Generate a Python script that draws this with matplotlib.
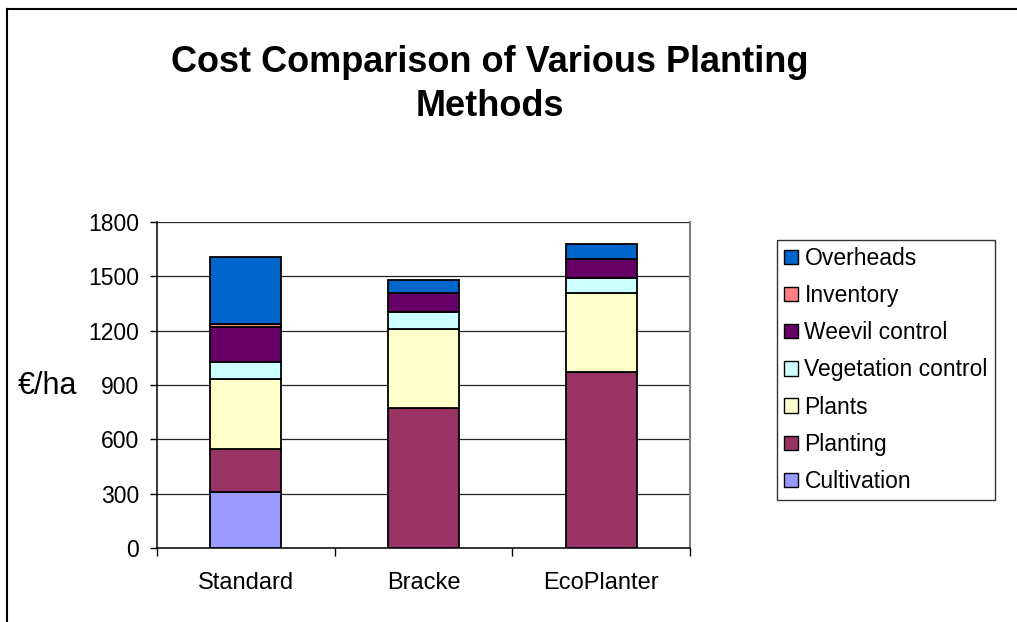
import matplotlib
matplotlib.use("Agg")
import matplotlib.pyplot as plt
from matplotlib.patches import Patch
from matplotlib.lines import Line2D
import numpy as np

plt.rcParams['font.family'] = ['Liberation Sans', 'DejaVu Sans']

categories = ["Standard", "Bracke", "EcoPlanter"]
series = ["Cultivation", "Planting", "Plants", "Vegetation control",
          "Weevil control", "Inventory", "Overheads"]
cultivation = [307, 0, 0]
planting = [240, 775, 970]
plants = [385, 436, 439]
vegetation = [95, 93, 80]
weevil = [195, 105, 105]
inventory = [15, 0, 0]
overheads = [370, 70, 84]
values = [cultivation, planting, plants, vegetation, weevil, inventory, overheads]
colors = ["#9999FF", "#993366", "#FFFFCC", "#CCFFFF", "#660066", "#FF8080", "#0066CC"]
yticks = [0, 300, 600, 900, 1200, 1500, 1800]

W, H = 1017, 622
fig = plt.figure(figsize=(W / 100, H / 100), dpi=100)
ax = fig.add_axes([157 / W, 1 - 548 / H, (690 - 157) / W, (548 - 222) / H])

x = np.arange(len(categories))
bottom = np.zeros(len(categories))
for vals, col in zip(values, colors):
    ax.bar(x, vals, 0.4, bottom=bottom, color=col, edgecolor="black",
           linewidth=1.3, zorder=3)
    bottom += np.array(vals)

ax.set_xlim(-0.5, 2.5)
ax.set_ylim(0, 1800)
ax.set_yticks(yticks)
ax.set_yticklabels([str(t) for t in yticks])
ax.yaxis.grid(True, color="#222222", linewidth=0.9, zorder=0)
ax.set_axisbelow(True)

ax.set_xticks([-0.5, 0.5, 1.5, 2.5])
ax.set_xticklabels([])
ax.set_xticks(x, minor=True)
ax.set_xticklabels(categories, minor=True)
ax.tick_params(axis="x", which="major", direction="out", length=6, width=1, color="black")
ax.tick_params(axis="x", which="minor", length=0, pad=17, labelsize=17)
ax.tick_params(axis="y", direction="out", length=5, width=1, pad=8, labelsize=16.5)

for s in ["left", "bottom"]:
    ax.spines[s].set_color("black")
    ax.spines[s].set_linewidth(1.1)
ax.spines["top"].set_visible(False)
ax.spines["right"].set_color("#808080")
ax.spines["right"].set_linewidth(1.5)

fig.text(47 / W, 1 - 386 / H, "€/ha", fontsize=22, ha="center", va="center")

fig.text(490 / W, 1 - 62 / H, "Cost Comparison of Various Planting",
         fontsize=26, fontweight="bold", ha="center", va="center")
fig.text(490 / W, 1 - 106 / H, "Methods",
         fontsize=26, fontweight="bold", ha="center", va="center")

handles = [Patch(facecolor=c, edgecolor="black", linewidth=1.0, label=s)
           for s, c in zip(series, colors)][::-1]
leg = fig.legend(handles=handles, loc="upper left",
                 bbox_to_anchor=(777 / W, 1 - 240 / H),
                 fontsize=16.5, frameon=True, fancybox=False,
                 edgecolor="black", handlelength=0.6, handleheight=0.6,
                 handletextpad=0.3, labelspacing=0.62, borderpad=0.3,
                 borderaxespad=0)
leg.get_frame().set_linewidth(1.0)

fig.add_artist(Line2D([7 / W, 7 / W], [0, 1 - 9 / H], transform=fig.transFigure,
                      color="black", linewidth=1.5))
fig.add_artist(Line2D([7 / W, 1], [1 - 9 / H, 1 - 9 / H], transform=fig.transFigure,
                      color="black", linewidth=1.5))

fig.savefig("out.png", dpi=100)
